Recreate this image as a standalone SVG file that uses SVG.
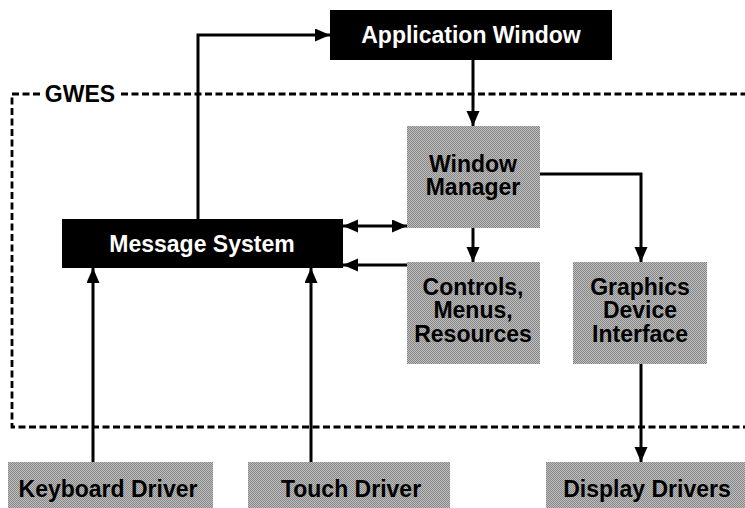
<svg xmlns="http://www.w3.org/2000/svg" width="745" height="508" viewBox="0 0 745 508">
<defs>
<marker id="ah" markerUnits="userSpaceOnUse" markerWidth="16" markerHeight="14" refX="15" refY="6.5" orient="auto-start-reverse" viewBox="0 0 16 14">
<path d="M0,0 L15,6.5 L0,13 z" fill="#000"/>
</marker>
<pattern id="dots" width="2" height="2" patternUnits="userSpaceOnUse">
<rect width="2" height="2" fill="#bdbdbd"/>
<rect width="1" height="1" fill="#888"/>
<rect x="1" y="1" width="1" height="1" fill="#888"/>
</pattern>
</defs>
<style>
.blk{fill:#000}
.gry{fill:url(#dots)}
.wt{fill:#fff;font-family:"Liberation Sans",Arial,Helvetica,sans-serif;font-weight:bold;font-size:23px;text-anchor:middle}
.bt{fill:#000;font-family:"Liberation Sans",Arial,Helvetica,sans-serif;font-weight:bold;font-size:23px;text-anchor:middle}
.ln{fill:none;stroke:#000;stroke-width:3}
.dash{fill:none;stroke:#000;stroke-width:2.8;stroke-dasharray:7 3.5}
</style>
<rect width="745" height="508" fill="#fff"/>
<g id="gwes">
<path class="dash" d="M40 94 H12 V427 H750"/>
<path class="dash" d="M121 94 H750"/>
<text class="bt" x="80" y="102" font-size="22">GWES</text>
</g>
<g id="connectors">
<path class="ln" d="M198 219 V35 H330" marker-end="url(#ah)"/>
<path class="ln" d="M473 60 V126" marker-end="url(#ah)"/>
<path class="ln" d="M343 226 H407" marker-start="url(#ah)" marker-end="url(#ah)"/>
<path class="ln" d="M407 265 H343" marker-end="url(#ah)"/>
<path class="ln" d="M473 228 V262" marker-end="url(#ah)"/>
<path class="ln" d="M540 174 H641 V262" marker-end="url(#ah)"/>
<path class="ln" d="M641 364 V462" marker-end="url(#ah)"/>
<path class="ln" d="M93 462 V268" marker-end="url(#ah)"/>
<path class="ln" d="M311 462 V268" marker-end="url(#ah)"/>
</g>
<g id="app-window">
<rect class="blk" x="330" y="10" width="282" height="50"/>
<text class="wt" x="471" y="43">Application Window</text>
</g>
<g id="message-system">
<rect class="blk" x="62" y="219" width="281" height="49"/>
<text class="wt" x="202" y="252">Message System</text>
</g>
<g id="window-manager">
<rect class="gry" x="407" y="126" width="133" height="102"/>
<text class="bt" x="473" y="172">Window</text>
<text class="bt" x="473" y="195">Manager</text>
</g>
<g id="controls">
<rect class="gry" x="407" y="262" width="133" height="102"/>
<text class="bt" x="473" y="295">Controls,</text>
<text class="bt" x="473" y="318">Menus,</text>
<text class="bt" x="473" y="342">Resources</text>
</g>
<g id="gdi">
<rect class="gry" x="573" y="262" width="134" height="102"/>
<text class="bt" x="640" y="295">Graphics</text>
<text class="bt" x="640" y="318">Device</text>
<text class="bt" x="640" y="342">Interface</text>
</g>
<g id="keyboard-driver">
<rect class="gry" x="8" y="462" width="205" height="50"/>
<text class="bt" x="108" y="497">Keyboard Driver</text>
</g>
<g id="touch-driver">
<rect class="gry" x="248" y="462" width="202" height="50"/>
<text class="bt" x="351" y="497">Touch Driver</text>
</g>
<g id="display-drivers">
<rect class="gry" x="546" y="462" width="205" height="50"/>
<text class="bt" x="647" y="497">Display Drivers</text>
</g>
</svg>
